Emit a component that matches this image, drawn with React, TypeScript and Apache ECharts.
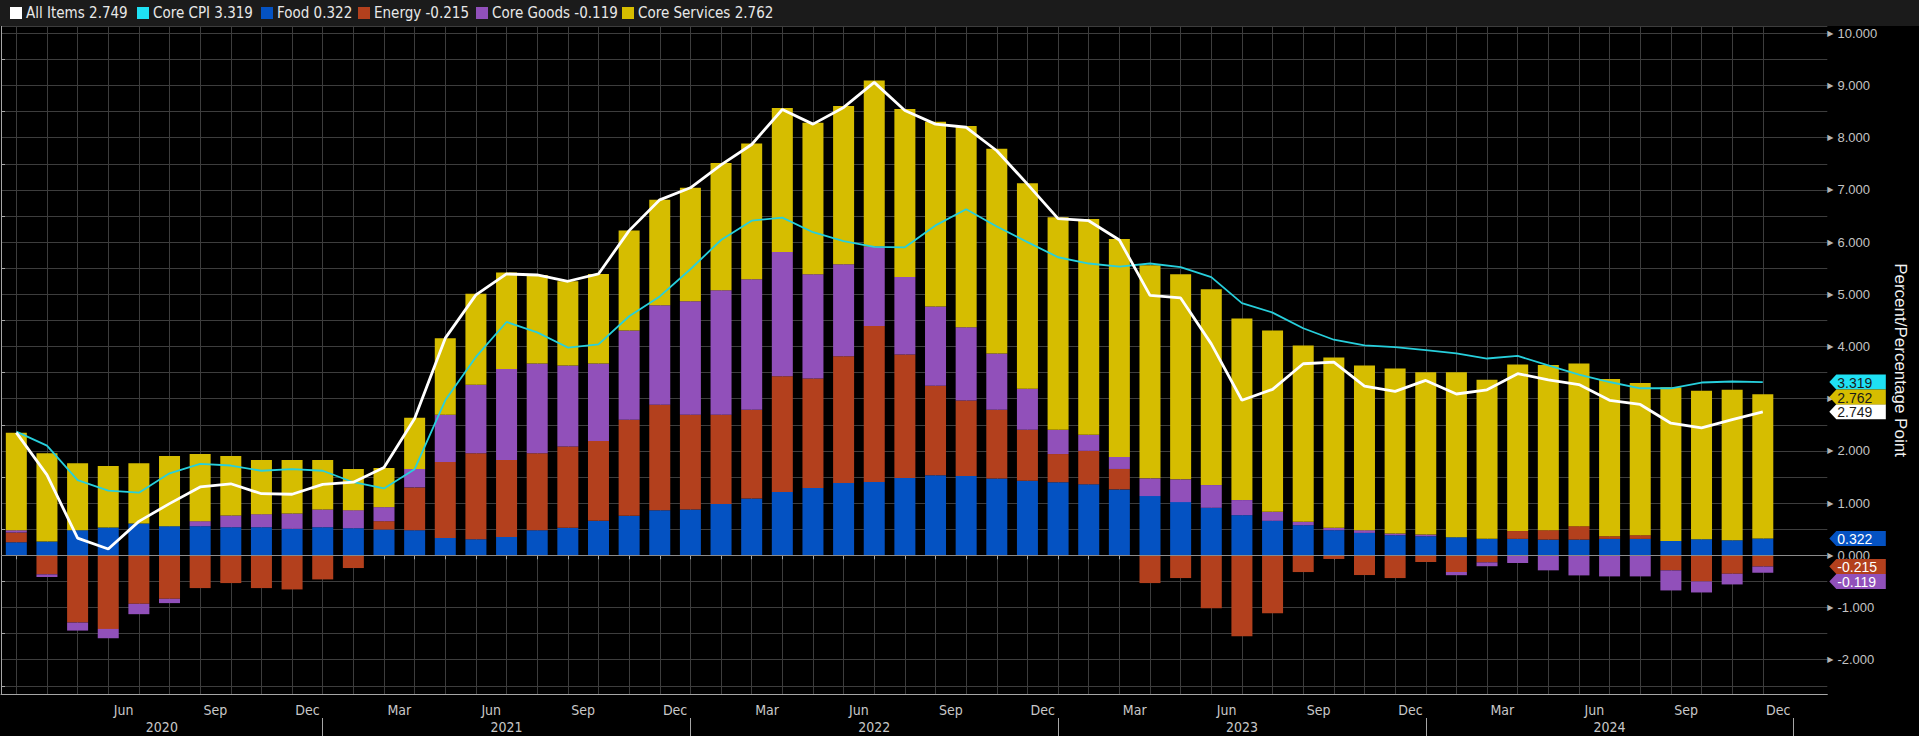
import React, { useEffect, useRef } from 'react';
import * as echarts from 'echarts';

// ---------- data ----------
const CATEGORIES = [
  '2020-02', '2020-03', '2020-04', '2020-05', '2020-06', '2020-07', '2020-08', '2020-09', '2020-10', '2020-11', '2020-12',
  '2021-01', '2021-02', '2021-03', '2021-04', '2021-05', '2021-06', '2021-07', '2021-08', '2021-09', '2021-10', '2021-11', '2021-12',
  '2022-01', '2022-02', '2022-03', '2022-04', '2022-05', '2022-06', '2022-07', '2022-08', '2022-09', '2022-10', '2022-11', '2022-12',
  '2023-01', '2023-02', '2023-03', '2023-04', '2023-05', '2023-06', '2023-07', '2023-08', '2023-09', '2023-10', '2023-11', '2023-12',
  '2024-01', '2024-02', '2024-03', '2024-04', '2024-05', '2024-06', '2024-07', '2024-08', '2024-09', '2024-10', '2024-11', '2024-12',
  '2025-01',
];

const FOOD = [
  0.25, 0.263, 0.481, 0.532, 0.609, 0.558, 0.558, 0.538, 0.538, 0.506, 0.538,
  0.519, 0.494, 0.481, 0.333, 0.308, 0.353, 0.481, 0.526, 0.66, 0.756, 0.865, 0.878,
  0.981, 1.09, 1.212, 1.288, 1.385, 1.404, 1.481, 1.532, 1.519, 1.47, 1.43, 1.4,
  1.36, 1.263, 1.135, 1.019, 0.91, 0.769, 0.66, 0.577, 0.481, 0.429, 0.385, 0.365,
  0.347, 0.315, 0.315, 0.301, 0.301, 0.314, 0.314, 0.276, 0.308, 0.288, 0.322,
];
const ENERGY = [
  0.186, -0.365, -1.288, -1.41, -0.929, -0.833, -0.628, -0.532, -0.628, -0.654, -0.462,
  -0.244, 0.16, 0.82, 1.455, 1.647, 1.474, 1.474, 1.557, 1.532, 1.84, 2.02, 1.814,
  1.711, 1.698, 2.217, 2.097, 2.429, 2.987, 2.365, 1.718, 1.445, 1.318, 0.974, 0.54,
  0.64, 0.391, -0.532, -0.436, -1.013, -1.551, -1.109, -0.321, -0.07, -0.378, -0.436, -0.128,
  -0.32, -0.135, 0.15, 0.18, 0.257, 0.051, 0.071, -0.288, -0.5, -0.353, -0.215,
];
const CORE_GOODS = [
  0.045, -0.051, -0.154, -0.179, -0.199, -0.083, 0.096, 0.225, 0.25, 0.295, 0.34,
  0.346, 0.269, 0.353, 0.904, 1.314, 1.744, 1.718, 1.552, 1.481, 1.712, 1.903, 2.173,
  2.385, 2.5, 2.38, 2.0, 1.763, 1.523, 1.484, 1.516, 1.405, 1.077, 0.788, 0.464,
  0.308, 0.231, 0.339, 0.436, 0.436, 0.289, 0.173, 0.064, 0.045, 0.052, 0.032, 0.032,
  -0.061, -0.074, -0.147, -0.288, -0.385, -0.404, -0.404, -0.385, -0.212, -0.205, -0.119,
];
const CORE_SERVICES = [
  1.865, 1.692, 1.282, 1.18, 1.154, 1.346, 1.288, 1.141, 1.039, 1.026, 0.949,
  0.789, 0.75, 0.981, 1.468, 1.744, 1.846, 1.697, 1.615, 1.717, 1.912, 2.022, 2.175,
  2.44, 2.6, 2.76, 2.9, 3.03, 3.18, 3.22, 3.54, 3.856, 3.923, 3.936, 4.07,
  4.134, 4.173, 4.084, 3.93, 3.75, 3.48, 3.475, 3.378, 3.262, 3.154, 3.16, 3.109,
  3.159, 3.05, 3.19, 3.166, 3.115, 3.013, 2.916, 2.942, 2.846, 2.885, 2.762,
];
const ALL_ITEMS = [
  2.35, 1.54, 0.33, 0.12, 0.65, 0.99, 1.31, 1.37, 1.18, 1.17, 1.36,
  1.4, 1.68, 2.62, 4.16, 4.99, 5.39, 5.37, 5.25, 5.39, 6.22, 6.81, 7.04,
  7.48, 7.87, 8.54, 8.26, 8.58, 9.06, 8.52, 8.26, 8.2, 7.75, 7.11, 6.45,
  6.41, 6.04, 4.98, 4.93, 4.05, 2.97, 3.18, 3.67, 3.7, 3.24, 3.14, 3.35,
  3.09, 3.17, 3.48, 3.36, 3.27, 2.97, 2.89, 2.53, 2.44, 2.6, 2.749,
];
const CORE_CPI = [
  2.37, 2.1, 1.44, 1.24, 1.2, 1.57, 1.75, 1.72, 1.62, 1.65, 1.62,
  1.4, 1.28, 1.65, 2.97, 3.8, 4.47, 4.27, 3.98, 4.04, 4.58, 4.96, 5.48,
  6.04, 6.41, 6.47, 6.19, 6.02, 5.91, 5.9, 6.32, 6.63, 6.3, 6.0, 5.71,
  5.59, 5.53, 5.59, 5.52, 5.33, 4.83, 4.65, 4.35, 4.13, 4.02, 3.99, 3.93,
  3.87, 3.77, 3.82, 3.64, 3.46, 3.32, 3.2, 3.2, 3.31, 3.33, 3.319,
];

const MONTH_ABBR = ['Jan', 'Feb', 'Mar', 'Apr', 'May', 'Jun', 'Jul', 'Aug', 'Sep', 'Oct', 'Nov', 'Dec'];
const QUARTER_MONTHS = ['03', '06', '09', '12'];
const AXIS_NAME = 'Percent/Percentage Point';

// ---------- styling ----------
const C_FOOD = '#0452c2';
const C_ENERGY = '#b3401d';
const C_GOODS = '#9150ba';
const C_SERV = '#d6bd00';
const C_ALL = '#ffffff';
const C_CORE = '#27cfdc';
const C_CORE_TAG = '#1fe1f4';
const GRID_COLOR = '#3d3d3d';
const AXIS_COLOR = '#a6a6a6';
const NARROW = '"Liberation Sans Narrow", "DejaVu Sans Condensed", "Liberation Sans", sans-serif';
const SANS = '"Liberation Sans", Arial, sans-serif';

const PLOT_LEFT = 1;
const PLOT_TOP = 26;
const PLOT_BOTTOM = 694;
const AXIS_X = 1827.3;
const CAT_W = 30.64;
const Y_MIN = -2.657;
const Y_MAX = 10.14;
const N_DATA = FOOD.length;
const TAG_H = 15;

const last = (a: number[]) => a[a.length - 1];

export default function App() {
  const ref = useRef<HTMLDivElement>(null);

  useEffect(() => {
    document.body.style.margin = '0';
    document.body.style.background = '#000';
    const chart = echarts.init(ref.current!, null, { renderer: 'svg' });

    const legendItems = [
      { name: 'All Items', value: last(ALL_ITEMS), color: C_ALL, x: 10 },
      { name: 'Core CPI', value: last(CORE_CPI), color: C_CORE_TAG, x: 137 },
      { name: 'Food', value: last(FOOD), color: C_FOOD, x: 261 },
      { name: 'Energy', value: last(ENERGY), color: C_ENERGY, x: 358 },
      { name: 'Core Goods', value: last(CORE_GOODS), color: C_GOODS, x: 476 },
      { name: 'Core Services', value: last(CORE_SERVICES), color: C_SERV, x: 622 },
    ];

    const legendGraphics: any[] = [
      { id: 'band', type: 'rect', shape: { x: 0, y: 0, width: 1919, height: PLOT_TOP }, style: { fill: '#1b1b1b' }, z: 5 },
    ];
    legendItems.forEach((it, i) => {
      legendGraphics.push({ id: 'lsq' + i, type: 'rect', shape: { x: it.x, y: 7, width: 12, height: 12 }, style: { fill: it.color }, z: 6 });
      legendGraphics.push({
        id: 'ltx' + i, type: 'text', z: 6,
        style: {
          text: `${it.name} ${it.value.toFixed(3)}`, x: it.x + 16, y: 13,
          fill: '#e8e8e8', font: `15px ${NARROW}`,
          align: 'left', verticalAlign: 'middle', textAlign: 'left', textVerticalAlign: 'middle',
        },
      });
    });

    const barSeries = [
      ['Food', FOOD, C_FOOD],
      ['Energy', ENERGY, C_ENERGY],
      ['Core Goods', CORE_GOODS, C_GOODS],
      ['Core Services', CORE_SERVICES, C_SERV],
    ].map(([name, data, color]) => ({
      name, type: 'bar', stack: 'cpi', data, barWidth: 21,
      xAxisIndex: 0, yAxisIndex: 0,
      itemStyle: { color }, emphasis: { disabled: true },
    }));

    const option: any = {
      animation: false,
      backgroundColor: '#000000',
      grid: [
        { left: PLOT_LEFT, top: PLOT_TOP, width: CAT_W * CATEGORIES.length, height: PLOT_BOTTOM - PLOT_TOP, containLabel: false, outerBoundsMode: 'none' },
        { left: PLOT_LEFT, top: PLOT_TOP, width: AXIS_X - PLOT_LEFT, height: PLOT_BOTTOM - PLOT_TOP, containLabel: false, outerBoundsMode: 'none' },
      ],
      xAxis: [
        {
          type: 'category', gridIndex: 0, data: CATEGORIES, boundaryGap: true, position: 'bottom',
          axisLine: { show: false },
          axisTick: { show: true, alignWithLabel: true, interval: (i: number) => i < N_DATA, length: 4, lineStyle: { color: AXIS_COLOR } },
          splitLine: { show: true, alignWithLabel: true, interval: (i: number) => i < N_DATA, lineStyle: { color: GRID_COLOR, width: 1 } },
          axisLabel: {
            show: true,
            interval: (i: number, v: string) => i >= 2 && QUARTER_MONTHS.includes(v.slice(5)),
            formatter: (v: string) => MONTH_ABBR[parseInt(v.slice(5), 10) - 1],
            color: '#c8c8c8', fontSize: 14, fontFamily: NARROW, margin: 9,
            padding: [0, CAT_W, 0, 0],
          },
        },
        {
          type: 'category', gridIndex: 0, data: CATEGORIES, boundaryGap: true, position: 'bottom', offset: 24,
          axisLine: { show: false },
          axisTick: { show: true, alignWithLabel: true, interval: (i: number, v: string) => v.slice(5) === '12', length: 18, lineStyle: { color: AXIS_COLOR } },
          splitLine: { show: false },
          axisLabel: {
            show: true, margin: 2,
            interval: (i: number, v: string) => v.slice(5) === '06',
            formatter: (v: string, i: number) => (i === 4 ? `{first|${v.slice(0, 4)}}` : `{yr|${v.slice(0, 4)}}`),
            rich: {
              first: { color: '#c8c8c8', fontSize: 14, fontFamily: NARROW, padding: [0, 0, 0, 46] },
              yr: { color: '#c8c8c8', fontSize: 14, fontFamily: NARROW },
            },
          },
        },
        {
          type: 'value', gridIndex: 1, min: 0, max: 1, position: 'bottom',
          axisLine: { show: true, onZero: false, lineStyle: { color: AXIS_COLOR } },
          axisTick: { show: false }, axisLabel: { show: false }, splitLine: { show: false },
        },
      ],
      yAxis: [
        { type: 'value', gridIndex: 0, min: Y_MIN, max: Y_MAX, show: false, splitLine: { show: false } },
        {
          type: 'value', gridIndex: 1, position: 'right', min: Y_MIN, max: Y_MAX, splitNumber: 13,
          axisLine: { show: true, lineStyle: { color: AXIS_COLOR } },
          axisTick: { show: false },
          minorTick: { show: true, splitNumber: 2, length: 4, lineStyle: { color: AXIS_COLOR } },
          splitLine: { show: true, lineStyle: { color: GRID_COLOR, width: 1 } },
          minorSplitLine: { show: true, lineStyle: { color: GRID_COLOR, width: 1 } },
          axisLabel: {
            margin: 0,
            showMinLabel: true, showMaxLabel: true,
            formatter: (v: number) => (Math.abs(v - Math.round(v)) < 1e-6 ? `{t|▶}{v|${v.toFixed(3)}}` : ''),
            rich: {
              t: { fontSize: 8, color: '#b4b4b4', fontFamily: '"DejaVu Sans", sans-serif' },
              v: { fontSize: 13, color: '#c4c4c4', fontFamily: SANS, padding: [0, 0, 0, 4] },
            },
          },
          name: AXIS_NAME, nameLocation: 'middle', nameRotate: -90, nameGap: 65,
          nameTextStyle: { color: '#f2f2f2', fontSize: 17, fontFamily: SANS },
        },
      ],
      series: [
        {
          name: 'zero', type: 'line', xAxisIndex: 2, yAxisIndex: 1, data: [], z: 1, silent: true,
          markLine: { silent: true, symbol: 'none', label: { show: false }, lineStyle: { color: '#8a8a8a', type: 'solid', width: 1 }, data: [{ yAxis: 0 }], animation: false },
        },
        ...barSeries,
        { name: 'Core CPI', type: 'line', data: CORE_CPI, xAxisIndex: 0, yAxisIndex: 0, symbol: 'none', z: 3, lineStyle: { color: C_CORE, width: 1.8 }, itemStyle: { color: C_CORE }, emphasis: { disabled: true } },
        { name: 'All Items', type: 'line', data: ALL_ITEMS, xAxisIndex: 0, yAxisIndex: 0, symbol: 'none', z: 4, lineStyle: { color: C_ALL, width: 2.8 }, itemStyle: { color: C_ALL }, emphasis: { disabled: true } },
      ],
      graphic: { elements: legendGraphics },
    };

    chart.setOption(option);

    // value tags on the right axis, placed by priority; a tag that would collide
    // with an already placed tag moves to the nearest free slot
    const tags = [
      { value: last(ALL_ITEMS), bg: '#ffffff', fg: '#1a1a1a' },
      { value: last(CORE_CPI), bg: C_CORE_TAG, fg: '#1a1a1a' },
      { value: last(FOOD), bg: C_FOOD, fg: '#ffffff' },
      { value: last(ENERGY), bg: C_ENERGY, fg: '#ffffff' },
      { value: last(CORE_GOODS), bg: C_GOODS, fg: '#ffffff' },
      { value: last(CORE_SERVICES), bg: C_SERV, fg: '#1a1a1a' },
    ];
    const placed: number[] = [];
    const isFree = (c: number) => placed.every((p) => Math.abs(c - p) >= TAG_H - 0.5);
    const tagEls: any[] = [];
    const x0 = AXIS_X + 2;
    const x1 = AXIS_X + 9;
    const x2 = AXIS_X + 58.5;
    const hh = TAG_H / 2;
    tags.forEach((t, i) => {
      const y0 = chart.convertToPixel({ yAxisIndex: 1 } as any, t.value) as number;
      let y = y0;
      if (!isFree(y0)) {
        const cands: number[] = [];
        placed.forEach((p) => { cands.push(p - TAG_H, p + TAG_H); });
        const free = cands.filter(isFree).sort((a, b) => Math.abs(a - y0) - Math.abs(b - y0));
        if (free.length) y = free[0];
      }
      placed.push(y);
      tagEls.push({
        id: 'tag' + i, type: 'polygon', z: 30 + i,
        shape: { points: [[x0, y], [x1, y - hh], [x2, y - hh], [x2, y + hh], [x1, y + hh]] },
        style: { fill: t.bg },
      });
      tagEls.push({
        id: 'tagt' + i, type: 'text', z: 30.5 + i,
        style: {
          text: t.value.toFixed(3), x: x1 + 1, y: y + 0.5, fill: t.fg, font: `14px ${SANS}`,
          align: 'left', verticalAlign: 'middle', textAlign: 'left', textVerticalAlign: 'middle',
        },
      });
    });
    chart.setOption({ graphic: { elements: tagEls } });

    return () => chart.dispose();
  }, []);

  return <div ref={ref} style={{ width: 1919, height: 736, background: '#000' }} />;
}
